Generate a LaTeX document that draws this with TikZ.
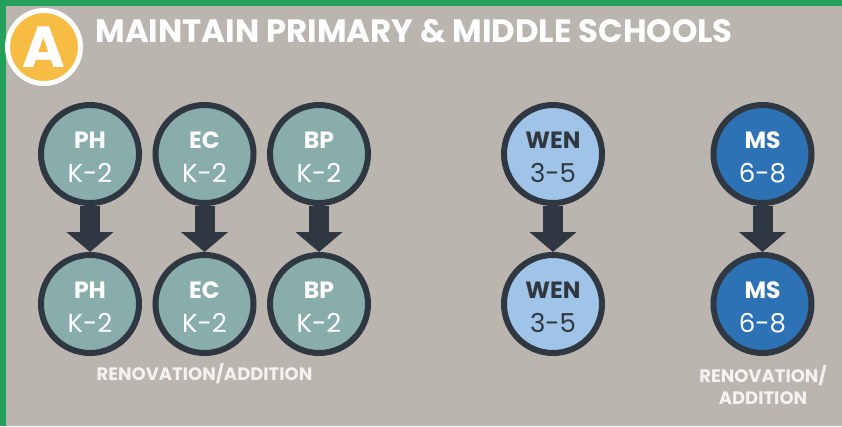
\documentclass[tikz,border=0pt]{standalone}
\usepackage{fontspec}
\setmainfont{Poppins}
\usetikzlibrary{arrows.meta}
\definecolor{bg}{HTML}{BBB5B0}
\definecolor{frame}{HTML}{24A05A}
\definecolor{ring}{HTML}{2F3840}
\definecolor{tealc}{HTML}{88ADAB}
\definecolor{lblue}{HTML}{A0C4E8}
\definecolor{dblue}{HTML}{2E72B6}
\definecolor{gold}{HTML}{F6BC44}
\definecolor{labc}{HTML}{F4F2F0}
% name, x, y, fill, text colour, abbreviation, grades
\newcommand\schoolnode[7]{%
  \node[school, fill=#4] (#1) at (#2,#3) {};
  \node[abbrtxt, text=#5] (#1-a) at ([yshift=13.5pt]#1.center) {#6};
  \node[gradetxt, text=#5] (#1-g) at ([yshift=-19pt]#1.center) {#7};}
\begin{document}
\begin{tikzpicture}[x=1pt,y=-1pt,
  school/.style={circle, draw=ring, line width=6pt, minimum size=98pt, inner sep=0pt},
  abbrtxt/.style={inner sep=0pt, font=\fontsize{23.5}{24}\selectfont\bfseries},
  gradetxt/.style={inner sep=0pt, font=\fontsize{26}{26}\selectfont},
  flow/.style={draw=ring, line width=20pt, -{Triangle[width=46pt,length=20pt]}},
  caption/.style={text=labc, font=\fontsize{18}{22}\selectfont\bfseries, align=center}]
\fill[bg] (0,0) rectangle (842,426);
\fill[frame] (0,0) rectangle (842,6);
\fill[frame] (0,0) rectangle (6,426);
\useasboundingbox (0,0) rectangle (842,426);
\node[circle, fill=gold, draw=white, line width=5pt, minimum size=73pt, inner sep=0pt, text=white, font=\fontsize{58}{58}\selectfont\bfseries] (badge) at (44,47) {A};
\node[anchor=base west, text=white, font=\fontsize{32.3}{32}\selectfont\bfseries] (title) at (92,42) {MAINTAIN PRIMARY \& MIDDLE SCHOOLS};
\schoolnode{ph1}{90}{154}{tealc}{white}{PH}{K-2}
\schoolnode{ec1}{204.5}{154}{tealc}{white}{EC}{K-2}
\schoolnode{bp1}{319}{154}{tealc}{white}{BP}{K-2}
\schoolnode{wen1}{553}{154}{lblue}{ring}{WEN}{3-5}
\schoolnode{ms1}{762.5}{154}{dblue}{white}{MS}{6-8}
\schoolnode{ph2}{90}{304}{tealc}{white}{PH}{K-2}
\schoolnode{ec2}{204.5}{304}{tealc}{white}{EC}{K-2}
\schoolnode{bp2}{319}{304}{tealc}{white}{BP}{K-2}
\schoolnode{wen2}{553}{304}{lblue}{ring}{WEN}{3-5}
\schoolnode{ms2}{762.5}{304}{dblue}{white}{MS}{6-8}
\draw[flow] (ph1) -- (ph2);
\draw[flow] (ec1) -- (ec2);
\draw[flow] (bp1) -- (bp2);
\draw[flow] (wen1) -- (wen2);
\draw[flow] (ms1) -- (ms2);
\node[caption] (cap1) at (204.5,374) {RENOVATION/ADDITION};
\node[caption] (cap2) at (763,385) {RENOVATION/\\ADDITION};
\end{tikzpicture}
\end{document}
